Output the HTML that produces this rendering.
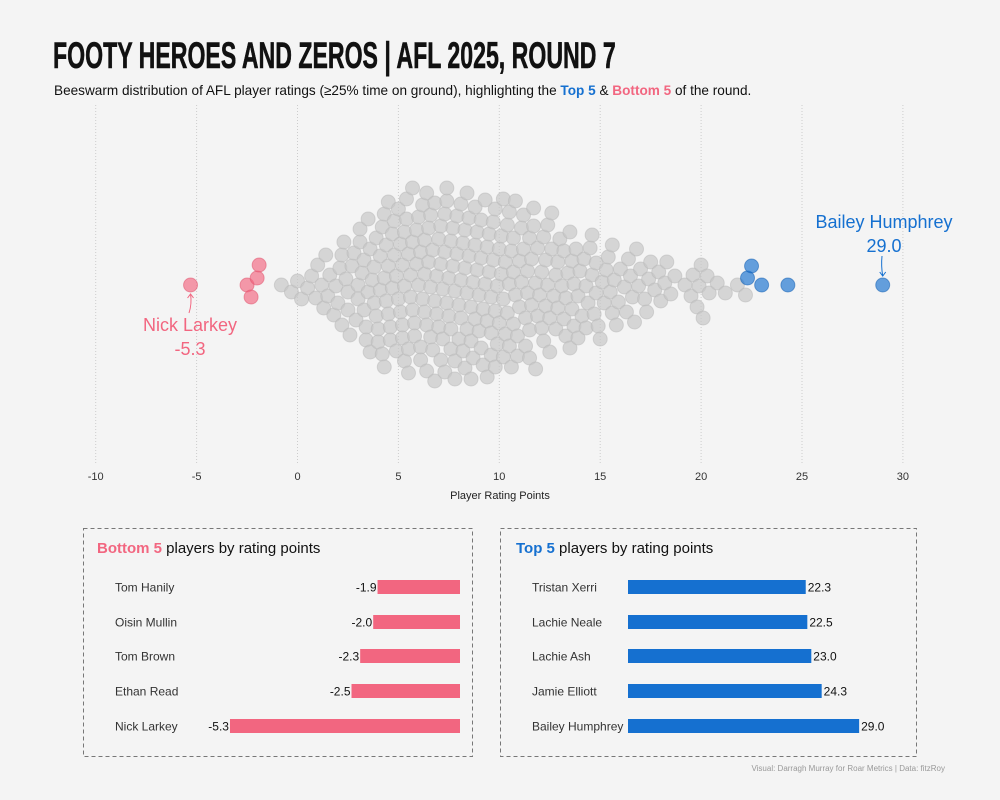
<!DOCTYPE html>
<html><head><meta charset="utf-8"><style>
body{margin:0;background:#f4f4f4;}
#root{position:relative;width:1000px;height:800px;background:#f4f4f4;font-family:"Liberation Sans",sans-serif;overflow:hidden}
</style></head><body>
<div id="root">
<svg id="svg" width="1000" height="800" xmlns="http://www.w3.org/2000/svg">
<text x="53" y="68" font-family="'Liberation Sans Narrow','Liberation Sans',sans-serif" font-weight="bold" font-size="37" fill="#111" stroke="#111" stroke-width="0.6" transform="translate(53,0) scale(0.625,1) translate(-53,0)">FOOTY HEROES AND ZEROS |  AFL 2025, ROUND 7</text>
<text x="54" y="95" font-size="13.6" fill="#111">Beeswarm distribution of AFL player ratings (≥25% time on ground), highlighting the <tspan fill="#1570d0" font-weight="bold">Top 5</tspan> &amp; <tspan fill="#f26680" font-weight="bold">Bottom 5</tspan> of the round.</text>
<g id="grid"></g>
<g id="ticks"></g>
<text x="500" y="499" font-size="11" fill="#222" text-anchor="middle">Player Rating Points</text>
<g id="swarm"></g>
<g id="annot"></g>
<rect x="83.5" y="528.5" width="389" height="228" fill="none" stroke="#777" stroke-dasharray="4,3"/>
<rect x="500.5" y="528.5" width="416" height="228" fill="none" stroke="#777" stroke-dasharray="4,3"/>
<text x="97" y="553" font-size="15" fill="#111"><tspan fill="#f26680" font-weight="bold">Bottom 5</tspan> players by rating points</text>
<text x="516" y="553" font-size="15" fill="#111"><tspan fill="#1570d0" font-weight="bold">Top 5</tspan> players by rating points</text>
<g id="bars"></g>
<text x="945" y="771" font-size="8" fill="#999" text-anchor="end">Visual: Darragh Murray for Roar Metrics | Data: fitzRoy</text>
</svg>
</div>
<script>
const ticks=[-10,-5,0,5,10,15,20,25,30];
const bottomNames=["Tom Hanily","Oisin Mullin","Tom Brown","Ethan Read","Nick Larkey"];
const bottomValues=[-1.9,-2.0,-2.3,-2.5,-5.3];
const topNames=["Tristan Xerri","Lachie Neale","Lachie Ash","Jamie Elliott","Bailey Humphrey"];
const topValues=[22.3,22.5,23.0,24.3,29.0];
const otherValues=[-0.8,-0.3,
0.0,0.2,0.5,0.7,0.9,
1.0,1.2,1.3,1.5,1.6,1.8,1.9,1.4,
2.0,2.1,2.2,2.3,2.4,2.5,2.6,2.7,2.8,2.9,2.5,2.2,
3.0,3.1,3.1,3.2,3.3,3.4,3.4,3.5,3.6,3.6,3.7,3.8,3.8,3.9,3.9,3.3,3.5,3.0,
4.0,4.0,4.1,4.1,4.2,4.3,4.3,4.4,4.4,4.5,4.5,4.6,4.6,4.7,4.7,4.8,4.8,4.9,4.9,4.2,4.5,4.3,
5.0,5.0,5.1,5.1,5.2,5.2,5.3,5.3,5.4,5.4,5.5,5.5,5.6,5.6,5.7,5.7,5.8,5.8,5.9,5.9,5.2,5.5,5.7,5.3,
6.0,6.0,6.1,6.1,6.2,6.2,6.3,6.3,6.4,6.4,6.5,6.5,6.6,6.6,6.7,6.7,6.8,6.8,6.9,6.9,6.1,6.4,6.6,6.8,6.3,
7.0,7.0,7.1,7.1,7.2,7.2,7.3,7.3,7.4,7.4,7.5,7.5,7.6,7.6,7.7,7.7,7.8,7.8,7.9,7.9,7.1,7.4,7.6,7.8,7.3,
8.0,8.0,8.1,8.1,8.2,8.2,8.3,8.3,8.4,8.4,8.5,8.5,8.6,8.6,8.7,8.7,8.8,8.8,8.9,8.9,8.1,8.4,8.6,8.8,8.3,
9.0,9.0,9.1,9.1,9.2,9.2,9.3,9.3,9.4,9.4,9.5,9.5,9.6,9.6,9.7,9.7,9.8,9.8,9.9,9.9,9.1,9.4,9.6,9.8,
10.0,10.0,10.1,10.1,10.2,10.2,10.3,10.3,10.4,10.4,10.5,10.5,10.6,10.6,10.7,10.7,10.8,10.8,10.9,10.9,10.2,10.5,10.7,
11.0,11.0,11.1,11.2,11.2,11.3,11.4,11.4,11.5,11.5,11.6,11.6,11.7,11.8,11.8,11.9,11.9,11.1,11.3,11.5,11.7,
12.0,12.1,12.1,12.2,12.3,12.4,12.4,12.5,12.6,12.6,12.7,12.8,12.8,12.9,12.9,12.2,12.5,12.3,
13.0,13.1,13.2,13.3,13.3,13.4,13.5,13.6,13.6,13.7,13.8,13.9,13.9,13.2,13.5,13.7,
14.0,14.1,14.2,14.3,14.4,14.5,14.6,14.7,14.8,14.9,14.3,14.6,14.8,
15.0,15.1,15.3,15.4,15.5,15.6,15.7,15.8,15.9,15.2,15.6,
16.0,16.2,16.3,16.5,16.6,16.7,16.9,16.4,16.8,
17.0,17.2,17.4,17.5,17.7,17.9,17.3,
18.0,18.2,18.5,18.7,18.3,
19.2,19.5,19.6,19.8,19.9,
20.0,20.1,20.3,20.4,
20.8,21.2,
21.8,22.2];
const NS="http://www.w3.org/2000/svg";
const x=v=>297.5+v*20.18;
const CY=285;
function mk(tag,attrs,parent){const e=document.createElementNS(NS,tag);for(const k in attrs)e.setAttribute(k,attrs[k]);parent.appendChild(e);return e;}
const grid=document.getElementById('grid'),tk=document.getElementById('ticks');
ticks.forEach(t=>{
  const l=mk('line',{x1:x(t),x2:x(t),y1:105,y2:463,stroke:'#ccc','stroke-dasharray':'1,2'},grid);
  
  
  const tx=mk('text',{x:x(t),y:480,'font-size':11,fill:'#333','text-anchor':'middle'},tk);
  tx.textContent=t;
  
  
});
const pts=[];
otherValues.forEach(v=>pts.push({v:v,c:'g'}));
bottomValues.forEach(v=>pts.push({v:v,c:'b'}));
topValues.forEach(v=>pts.push({v:v,c:'t'}));
pts.sort((a,b)=>a.v-b.v);
const D=12.2,placed=[];
pts.forEach(p=>{
  const px=x(p.v);
  let off=0;
  for(let k=0;k<400;k++){
    const cand=(k%2?1:-1)*Math.ceil(k/2);
    const ok=placed.every(q=>{const dx=q.x-px,dy=q.y-(CY+cand);return dx*dx+dy*dy>=D*D;});
    if(ok){off=cand;break;}
  }
  p.x=px;p.y=CY+off;placed.push(p);
});
const sw=document.getElementById('swarm');
const fill={g:'#c8c8c8',b:'#f26680',t:'#1570d0'};
const strk={g:'#b8b8b8',b:'#e0506a',t:'#0f5cb0'};
placed.forEach((p,i)=>{
  const c=mk('circle',{cx:p.x,cy:p.y,r:7,fill:fill[p.c],'fill-opacity':p.c=='g'?0.7:0.65,stroke:strk[p.c],'stroke-opacity':0.5},sw);
  
  
});
const an=document.getElementById('annot');
const lo=placed.find(p=>p.v===bottomValues[4]), hi=placed.find(p=>p.v===topValues[4]);
[[lo,'Nick Larkey',bottomValues[4],'#f26680',190,331,-1],[hi,'Bailey Humphrey',topValues[4],'#1570d0',884,228,1]].forEach(a=>{
  const [p,name,val,col,cx,ty,dir]=a;
  const t1=mk('text',{x:cx,y:ty,'font-size':18,fill:col,'text-anchor':'middle'},an);
  t1.textContent=name;
  
  
  const t2=mk('text',{x:cx,y:ty+24,'font-size':18,fill:col,'text-anchor':'middle'},an);
  t2.textContent=val.toFixed(1);
  
  
  let d;
  if(dir<0){d=`M${cx-1},${313} Q${cx+2},${304} ${p.x},${p.y+9}`;}
  else{d=`M${cx-2},${256} Q${cx-3},${266} ${p.x},${p.y-9}`;}
  const ar=mk('path',{d:d,fill:'none',stroke:col,'stroke-width':1},an);
  
  
  const ay=dir<0?p.y+9:p.y-9, s=dir<0?1:-1;
  const ah=mk('path',{d:`M${p.x-3},${ay+4*s} L${p.x},${ay} L${p.x+3},${ay+4*s}`,fill:'none',stroke:col,'stroke-width':1},an);
  
  
});
const bars=document.getElementById('bars');
const rowY=[587,622,656,691,726];
const bx=v=>460+v*43.4;
bottomValues.forEach((v,i)=>{
  const n=mk('text',{x:115,y:rowY[i]+4.5,'font-size':12,fill:'#333'},bars);n.textContent=bottomNames[i];
  
  
  const r=mk('rect',{x:bx(v),y:rowY[i]-7,width:460-bx(v),height:14,fill:'#f26680'},bars);
  
  
  const l=mk('text',{x:bx(v)-1,y:rowY[i]+4.5,'font-size':12,fill:'#111','text-anchor':'end'},bars);l.textContent=v.toFixed(1);
  
  
});
const tx2=v=>628+v*7.97;
topValues.forEach((v,i)=>{
  const n=mk('text',{x:532,y:rowY[i]+4.5,'font-size':12,fill:'#333'},bars);n.textContent=topNames[i];
  
  
  const r=mk('rect',{x:628,y:rowY[i]-7,width:tx2(v)-628,height:14,fill:'#1570d0'},bars);
  
  
  const l=mk('text',{x:tx2(v)+2,y:rowY[i]+4.5,'font-size':12,fill:'#111'},bars);l.textContent=v.toFixed(1);
  
  
});
</script>
</body></html>
